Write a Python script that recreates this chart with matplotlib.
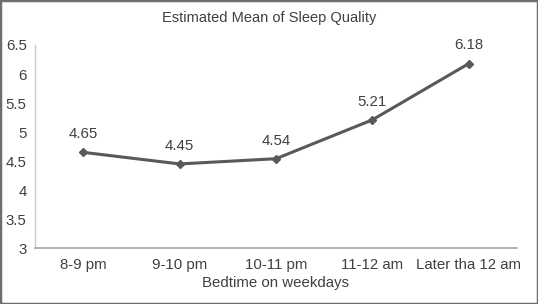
import matplotlib
matplotlib.use("Agg")
import matplotlib.pyplot as plt
from matplotlib.patches import Rectangle

categories = ["8-9 pm", "9-10 pm", "10-11 pm", "11-12 am", "Later tha 12 am"]
values = [4.65, 4.45, 4.54, 5.21, 6.18]
yticks = [3, 3.5, 4, 4.5, 5, 5.5, 6, 6.5]
ytick_labels = ["3", "3.5", "4", "4.5", "5", "5.5", "6", "6.5"]

plt.rcParams['font.family'] = ['Liberation Sans', 'DejaVu Sans']
txt = '#404040'

fig = plt.figure(figsize=(5.38, 3.04), dpi=100)
ax = fig.add_axes([0.065, 0.184, 0.896, 0.668])
x = list(range(len(categories)))
ax.plot(x, values, color='#595959', lw=2.2, marker='D', ms=4.5, mec='#595959', mfc='#595959')
for xi, v in zip(x, values):
    ax.annotate(f"{v:.2f}", (xi, v), xytext=(0, 8), textcoords='offset points',
                ha='center', va='bottom', fontsize=10.8, color=txt)
ax.set_xlim(-0.5, len(categories) - 0.5)
ax.set_ylim(3, 6.5)
ax.set_yticks(yticks)
ax.set_yticklabels(ytick_labels)
ax.set_xticks(x)
ax.set_xticklabels(categories)
ax.tick_params(length=0, labelsize=10.8, colors=txt)
ax.tick_params(axis='x', pad=7)
ax.tick_params(axis='y', pad=6)
for s in ['top', 'right']:
    ax.spines[s].set_visible(False)
ax.spines['left'].set_color('#c8c8c8')
ax.spines['bottom'].set_color('#a6a6a6')
ax.spines['left'].set_linewidth(1)
ax.spines['bottom'].set_linewidth(1.2)
ax.set_xlabel("Bedtime on weekdays", fontsize=10.8, color=txt, labelpad=3)
fig.text(0.5, 0.942, "Estimated Mean of Sleep Quality", ha='center', va='center', fontsize=10.5, color=txt)
fig.patches.append(Rectangle((0, 0), 1, 1, transform=fig.transFigure, fill=False,
                             edgecolor='#6e6e6e', lw=2.5))
fig.savefig("out.png", dpi=100)
